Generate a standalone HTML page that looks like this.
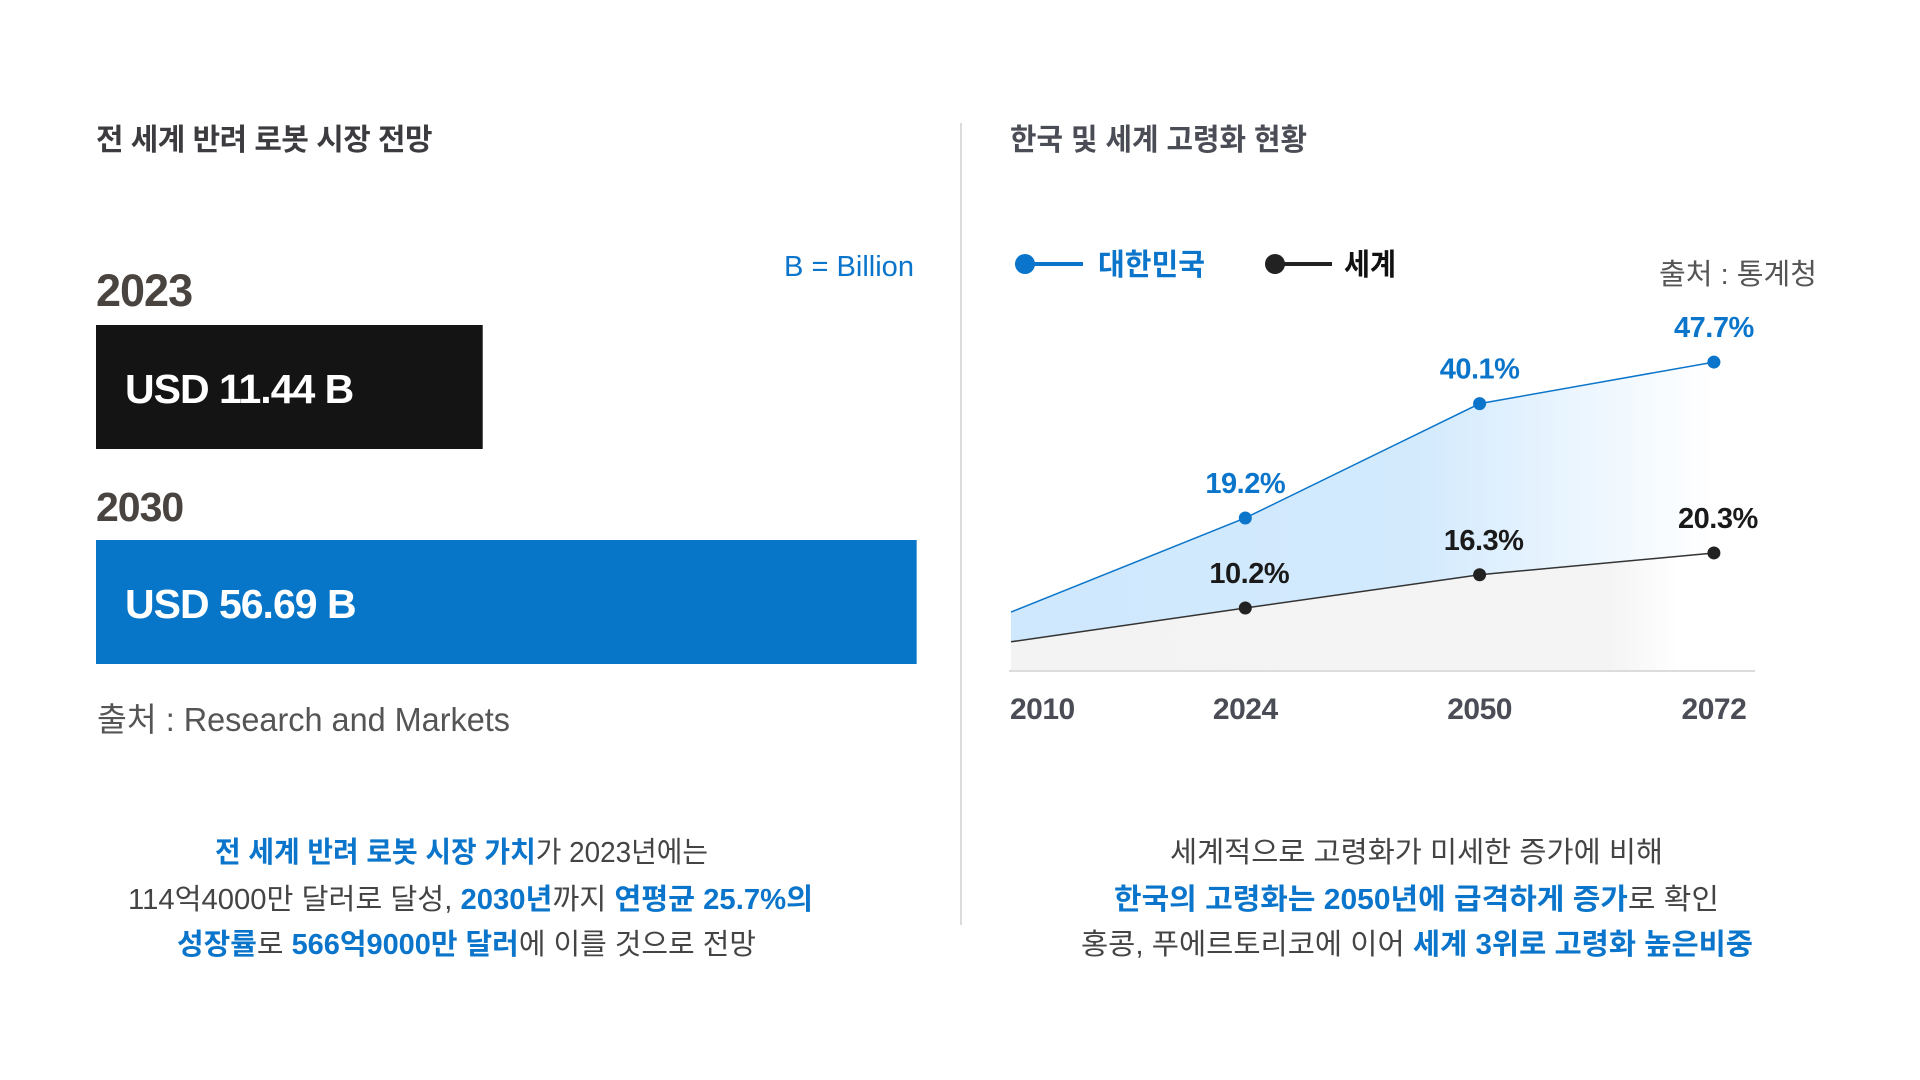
<!DOCTYPE html>
<html><head><meta charset="utf-8"><style>
html,body{margin:0;padding:0;background:#fff;}
svg{display:block;font-family:"Liberation Sans","Noto Sans CJK KR",sans-serif;}
</style></head><body>
<svg id="root" width="1920" height="1080" viewBox="0 0 1920 1080">
<defs>
<linearGradient id="gKo" gradientUnits="userSpaceOnUse" x1="1011" y1="0" x2="1714" y2="0">
<stop offset="0" stop-color="#cfe8fd"/><stop offset="0.58" stop-color="#d3eafd"/><stop offset="1" stop-color="#ffffff"/></linearGradient>
<linearGradient id="gWo" gradientUnits="userSpaceOnUse" x1="1011" y1="0" x2="1714" y2="0">
<stop offset="0" stop-color="#f3f3f3"/><stop offset="0.85" stop-color="#f4f4f4"/><stop offset="0.95" stop-color="#ffffff"/></linearGradient>
</defs>
<text x="96" y="150" font-size="30" font-weight="bold" fill="#3c3c40" letter-spacing="-0.5" textLength="336" lengthAdjust="spacingAndGlyphs">전 세계 반려 로봇 시장 전망</text>
<text x="914" y="276" font-size="29" fill="#0a75ca" text-anchor="end" textLength="130" lengthAdjust="spacingAndGlyphs">B = Billion</text>
<g id="bars"></g>
<text x="97" y="731" font-size="33" fill="#555" textLength="413" lengthAdjust="spacingAndGlyphs">출처 : Research and Markets</text>
<line x1="961" y1="123" x2="961" y2="925" stroke="#cfcfcf" stroke-width="1.5"/>
<text x="1010" y="150" font-size="30" font-weight="bold" fill="#4a4d55" textLength="297" lengthAdjust="spacingAndGlyphs">한국 및 세계 고령화 현황</text>
<g>
<g>
<line x1="1022" y1="264" x2="1083" y2="264" stroke="#0a75ca" stroke-width="4"/>
<circle cx="1025" cy="264" r="10" fill="#0a75ca"/>
<text x="1098" y="275" font-size="30" font-weight="bold" fill="#0a75ca" textLength="107" lengthAdjust="spacingAndGlyphs">대한민국</text></g>
<g>
<line x1="1272" y1="264" x2="1332" y2="264" stroke="#222" stroke-width="4"/>
<circle cx="1275" cy="264" r="10" fill="#222"/>
<text x="1344" y="275" font-size="30" font-weight="bold" fill="#111" textLength="52" lengthAdjust="spacingAndGlyphs">세계</text></g>
</g>
<text x="1659" y="284" font-size="29" fill="#555" textLength="158" lengthAdjust="spacingAndGlyphs">출처 : 통계청</text>
<g id="chart"></g>
<g font-size="29" fill="#444">
<text x="215" y="862" textLength="493" lengthAdjust="spacingAndGlyphs"><tspan fill="#0a75ca" font-weight="bold">전 세계 반려 로봇 시장 가치</tspan>가 2023년에는</text>
<text x="128" y="909" textLength="685" lengthAdjust="spacingAndGlyphs">114억4000만 달러로 달성, <tspan fill="#0a75ca" font-weight="bold">2030년</tspan>까지 <tspan fill="#0a75ca" font-weight="bold">연평균 25.7%의</tspan></text>
<text x="177" y="954" textLength="579" lengthAdjust="spacingAndGlyphs"><tspan fill="#0a75ca" font-weight="bold">성장률</tspan>로 <tspan fill="#0a75ca" font-weight="bold">566억9000만 달러</tspan>에 이를 것으로 전망</text>
</g>
<g font-size="29" fill="#444">
<text x="1170" y="862" textLength="493" lengthAdjust="spacingAndGlyphs">세계적으로 고령화가 미세한 증가에 비해</text>
<text x="1114" y="909" textLength="605" lengthAdjust="spacingAndGlyphs"><tspan fill="#0a75ca" font-weight="bold">한국의 고령화는 2050년에 급격하게 증가</tspan>로 확인</text>
<text x="1081" y="954" textLength="672" lengthAdjust="spacingAndGlyphs">홍콩, 푸에르토리코에 이어 <tspan fill="#0a75ca" font-weight="bold">세계 3위로 고령화 높은비중</tspan></text>
</g>
</svg>
<script>
const barYears = ["2023", "2030"];
const barValues = [11.44, 56.69];
const barLabels = ["USD 11.44 B", "USD 56.69 B"];
const barColors = ["#141414", "#0776c9"];

const chartYears = ["2010", "2024", "2050", "2072"];
const koreaValues = [2.0, 19.2, 40.1, 47.7];
const worldValues = [4.0, 10.2, 16.3, 20.3];
const koreaLabels = ["", "19.2%", "40.1%", "47.7%"];
const worldLabels = ["", "10.2%", "16.3%", "20.3%"];

const NS = "http://www.w3.org/2000/svg";
function mk(tag, attrs, parent) {
  const e = document.createElementNS(NS, tag);
  for (const k in attrs) e.setAttribute(k, attrs[k]);
  parent.appendChild(e);
  return e;
}
// bar chart
const bars = document.getElementById('bars');
function barW(v) { return 277 + 9.59 * v; }
const barTop = [325, 540], yrY = [306, 521], yrSize = [45, 41];
barValues.forEach((v, i) => {
  const t = mk('text', {x: 96, y: yrY[i], 'font-size': yrSize[i], 'font-weight': 'bold', fill: '#4a4440', 'letter-spacing': '-1'}, bars);
  t.textContent = barYears[i];
  
  
  const r = mk('rect', {x: 96, y: barTop[i], width: barW(v), height: 124, fill: barColors[i]}, bars);
  
  
  const l = mk('text', {x: 125, y: barTop[i] + 78, 'font-size': 41, 'font-weight': 'bold', fill: '#fff', 'letter-spacing': '-1'}, bars);
  l.textContent = barLabels[i];
  
  
});
// line chart
const chart = document.getElementById('chart');
const baseY = 671;
function xS(i) { return 1011 + i * 234.3; }
function yK(v) { return 623 - 5.47 * v; }
function yW(v) { return 663.6 - 5.45 * v; }
const kp = koreaValues.map((v, i) => [xS(i), yK(v)]);
const wp = worldValues.map((v, i) => [xS(i), yW(v)]);
function areaD(p) { return 'M' + p.map(q => q.join(',')).join(' L') + ` L${p[p.length-1][0]},${baseY} L${p[0][0]},${baseY} Z`; }
const ka = mk('path', {d: areaD(kp), fill: 'url(#gKo)'}, chart);


const wa = mk('path', {d: areaD(wp), fill: 'url(#gWo)'}, chart);


const bl = mk('line', {x1: 1009, y1: baseY, x2: 1755, y2: baseY, stroke: '#dcdcdc', 'stroke-width': 2}, chart);


const kl = mk('polyline', {points: kp.map(q => q.join(',')).join(' '), fill: 'none', stroke: '#0a75ca', 'stroke-width': 1.5}, chart);


const wl = mk('polyline', {points: wp.map(q => q.join(',')).join(' '), fill: 'none', stroke: '#333', 'stroke-width': 1.5}, chart);


chartYears.forEach((yr, i) => {
  if (i > 0) {
    const c1 = mk('circle', {cx: kp[i][0], cy: kp[i][1], r: 6.5, fill: '#0a75ca'}, chart);
    
    
    const c2 = mk('circle', {cx: wp[i][0], cy: wp[i][1], r: 6.5, fill: '#222'}, chart);
    
    
    const t1 = mk('text', {x: kp[i][0], y: kp[i][1] - 25, 'font-size': 29, 'font-weight': 'bold', fill: '#0a75ca', 'text-anchor': 'middle', 'letter-spacing': '-0.5'}, chart);
    t1.textContent = koreaLabels[i];
    
    
    const t2 = mk('text', {x: wp[i][0] + 4, y: wp[i][1] - 25, 'font-size': 29, 'font-weight': 'bold', fill: '#1a1a1a', 'text-anchor': 'middle', 'letter-spacing': '-0.5'}, chart);
    t2.textContent = worldLabels[i];
    
    
  }
  const xl = mk('text', {x: i === 0 ? 1010 : xS(i), y: 719, 'font-size': 30, 'font-weight': 'bold', fill: '#4a4d55', 'text-anchor': i === 0 ? 'start' : 'middle', 'letter-spacing': '-0.5'}, chart);
  xl.textContent = yr;
  
  
});
</script>
</body></html>
